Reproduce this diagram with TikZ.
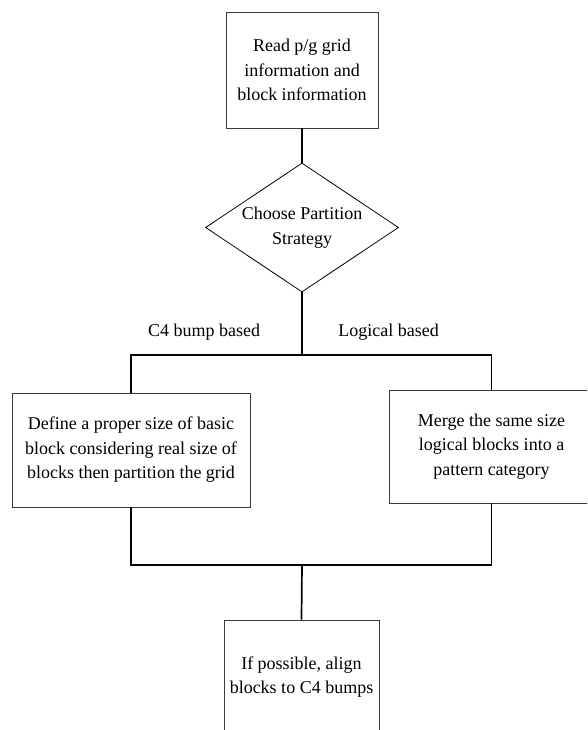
\documentclass[tikz,border=0pt]{standalone}
\usepackage{fontspec}
\setmainfont{Liberation Serif}[Ligatures=TeX]
\usepackage{tikz}
\usepackage{xcolor}
\usetikzlibrary{positioning,shapes,calc}
\definecolor{ink}{HTML}{000000}
\definecolor{edgegray}{HTML}{3A3A3A}
\tikzset{
  stepbox/.style={draw=edgegray,fill=white,line width=0.9pt,
                  align=center,inner sep=0pt,
                  font=\rmfamily\fontsize{18}{24.5}\selectfont},
  choicebox/.style={draw=ink,diamond,aspect=1.5,line width=0.8pt,
                    align=center,inner sep=0pt,
                    minimum width=193pt,minimum height=129pt,
                    font=\rmfamily\fontsize{18}{24.5}\selectfont},
  branchlabel/.style={font=\rmfamily\fontsize{18}{22}\selectfont,inner sep=0pt},
  linkline/.style={line width=1.7pt,color=ink}
}

\begin{document}
\begin{tikzpicture}[x=1pt,y=-1pt]
      \useasboundingbox (0,0) rectangle (587,730);
      \clip (0,0) rectangle (587,730);

      % first step and the choice
      \node[stepbox,minimum width=152pt,minimum height=116pt] (read) at (302,70)
        {Read p/g grid\\information and\\block information};
      \node[choicebox] (choose) at (302,227.5) {Choose Partition\\Strategy};

      % the two ways
      \node[stepbox,minimum width=238pt,minimum height=114pt] (basic) at (131,450)
        {Define a proper size of basic\\block considering real size of\\blocks then partition the grid};
      \node[stepbox,minimum width=205pt,minimum height=113pt] (pattern) at (491.5,446.5)
        {Merge the same size\\logical blocks into a\\pattern category};
      \node[stepbox,minimum width=155pt,minimum height=114pt] (align) at (301.5,677)
        {If possible, align\\blocks to C4 bumps};

      \coordinate (split) at (302,355);
      \coordinate (merge) at (302,565);
      \node[branchlabel] (bumplabel) at (204,332) {C4 bump based};
      \node[branchlabel] (logiclabel) at (388.5,332) {Logical based};

      \draw[linkline] (read.south) -- (choose.north);
      \draw[linkline] (choose.south) -- (split);
      \draw[linkline] (basic.north) |- (split) -| (pattern.north);
      \draw[linkline] (basic.south) |- (merge) -| (pattern.south);
      \draw[linkline] (merge) -- (align.north);
    \end{tikzpicture}
\end{document}
